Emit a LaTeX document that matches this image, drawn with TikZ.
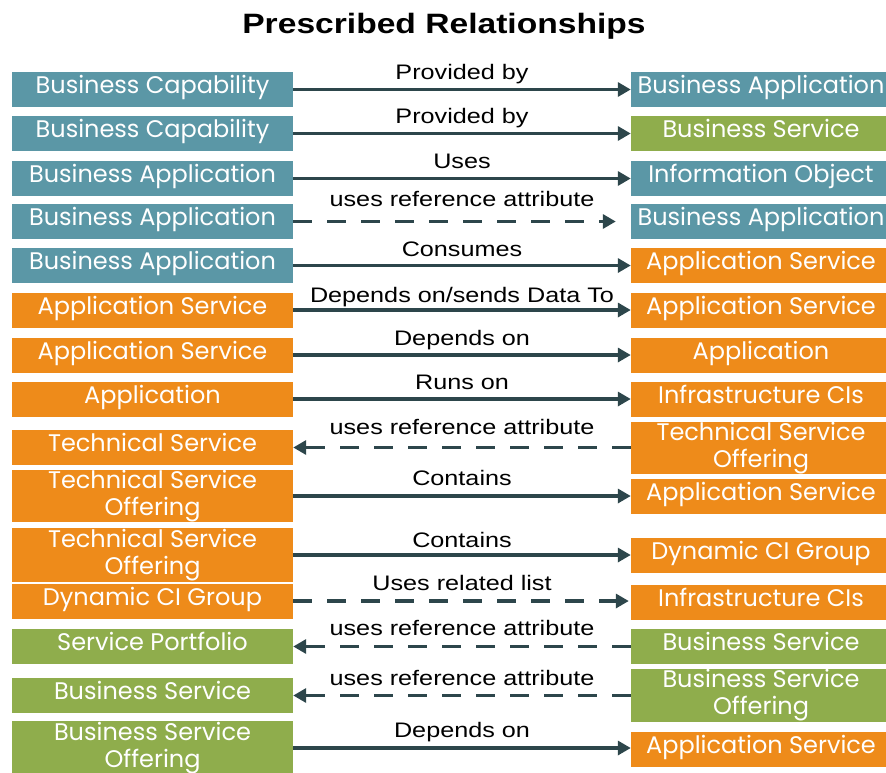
\documentclass[tikz,border=0pt]{standalone}
\usepackage{fontspec}
\setmainfont{Liberation Sans}
\newfontfamily\boxfont{Poppins}
\newfontfamily\lblfont[FakeStretch=1.2]{Liberation Sans}
\usetikzlibrary{arrows.meta}
\definecolor{cTeal}{RGB}{91,151,166}
\definecolor{cOrange}{RGB}{238,139,26}
\definecolor{cGreen}{RGB}{143,173,76}
\definecolor{cArrow}{RGB}{45,70,75}
\tikzset{
  bx/.style={rectangle, inner sep=0pt, text=white,
    font=\boxfont\fontsize{24}{27}\selectfont},
  one/.style={minimum height=35pt, text height=1.0em, text depth=0.16em},
  two/.style={minimum height=#1pt, align=center},
  lbox/.style={bx, minimum width=281pt},
  rbox/.style={bx, minimum width=260pt},
  ar/.style={draw=cArrow, line width=3.8pt, -{Triangle[length=13pt,width=14pt]}},
  dsh/.style={dash pattern=on 19pt off 15pt},
  lbl/.style={font=\lblfont\fontsize{21}{24}\selectfont, anchor=base, inner sep=0pt},
}
\begin{document}
\begin{tikzpicture}[x=1pt,y=-1pt]
\useasboundingbox (0,0) rectangle (886,772);
\node[anchor=base, inner sep=0pt, font=\lblfont\bfseries\fontsize{28}{32}\selectfont] (title) at (444,33) {Prescribed Relationships};
% left boxes
\node[lbox,one,fill=cTeal] (L1) at (152.5,89.5) {Business Capability};
\node[lbox,one,fill=cTeal] (L2) at (152.5,133.5) {Business Capability};
\node[lbox,one,fill=cTeal] (L3) at (152.5,178.5) {Business Application};
\node[lbox,one,fill=cTeal] (L4) at (152.5,221.5) {Business Application};
\node[lbox,one,fill=cTeal] (L5) at (152.5,265.5) {Business Application};
\node[lbox,one,fill=cOrange] (L6) at (152.5,310) {Application Service};
\node[lbox,one,fill=cOrange] (L7) at (152.5,355) {Application Service};
\node[lbox,one,fill=cOrange] (L8) at (152.5,399) {Application};
\node[lbox,one,fill=cOrange] (L9) at (152.5,447.5) {Technical Service};
\node[lbox,two=52,fill=cOrange] (L10) at (152.5,496) {Technical Service\\Offering};
\node[lbox,two=54,fill=cOrange] (L11) at (152.5,555) {Technical Service\\Offering};
\node[lbox,one,fill=cOrange] (L12) at (152.5,601) {Dynamic CI Group};
\node[lbox,one,fill=cGreen] (L13) at (152.5,646.5) {Service Portfolio};
\node[lbox,one,fill=cGreen] (L14) at (152.5,695.5) {Business Service};
\node[lbox,two=54,fill=cGreen] (L15) at (152.5,748) {Business Service\\Offering};
% right boxes
\node[rbox,one,fill=cTeal] (R1) at (761,89.5) {Business Application};
\node[rbox,one,fill=cGreen] (R2) at (761,133.5) {Business Service};
\node[rbox,one,fill=cTeal] (R3) at (761,178.5) {Information Object};
\node[rbox,one,fill=cTeal] (R4) at (761,221.5) {Business Application};
\node[rbox,one,fill=cOrange] (R5) at (761,265.5) {Application Service};
\node[rbox,one,fill=cOrange] (R6) at (761,310) {Application Service};
\node[rbox,one,fill=cOrange] (R7) at (761,355) {Application};
\node[rbox,one,fill=cOrange] (R8) at (761,399) {Infrastructure CIs};
\node[rbox,two=52,fill=cOrange] (R9) at (761,448) {Technical Service\\Offering};
\node[rbox,one,fill=cOrange] (R10) at (761,496) {Application Service};
\node[rbox,one,fill=cOrange] (R11) at (761,555) {Dynamic CI Group};
\node[rbox,one,fill=cOrange] (R12) at (761,602.5) {Infrastructure CIs};
\node[rbox,one,fill=cGreen] (R13) at (761,646.5) {Business Service};
\node[rbox,two=53,fill=cGreen] (R14) at (761,695.5) {Business Service\\Offering};
\node[rbox,one,fill=cOrange] (R15) at (761,749.5) {Application Service};
% connectors
\draw[ar] (L1.east) -- (L1.east -| R1.west);
\draw[ar] (L2.east) -- (L2.east -| R2.west);
\draw[ar] (L3.east) -- (L3.east -| R3.west);
\draw[ar,dsh,shorten >=15pt] (L4.east) -- (L4.east -| R4.west);
\draw[ar] (L5.east) -- (L5.east -| R5.west);
\draw[ar] (L6.east) -- (L6.east -| R6.west);
\draw[ar] (L7.east) -- (L7.east -| R7.west);
\draw[ar] (L8.east) -- (L8.east -| R8.west);
\draw[ar,dsh] (R9.west |- L9.east) -- (L9.east);
\draw[ar] (L10.east) -- (L10.east -| R10.west);
\draw[ar] (L11.east) -- (L11.east -| R11.west);
\draw[ar,dsh,shorten >=2pt] (L12.east) -- (L12.east -| R12.west);
\draw[ar,dsh] (R13.west |- L13.east) -- (L13.east);
\draw[ar,dsh] (R14.west |- L14.east) -- (L14.east);
\draw[ar] (L15.east) -- (L15.east -| R15.west);
% labels
\node[lbl] (T1) at (462,79) {Provided by};
\node[lbl] (T2) at (462,123) {Provided by};
\node[lbl] (T3) at (462,168) {Uses};
\node[lbl] (T4) at (462,206) {uses reference attribute};
\node[lbl] (T5) at (462,256) {Consumes};
\node[lbl] (T6) at (462,302) {Depends on/sends Data To};
\node[lbl] (T7) at (462,345) {Depends on};
\node[lbl] (T8) at (462,389) {Runs on};
\node[lbl] (T9) at (462,434) {uses reference attribute};
\node[lbl] (T10) at (462,485) {Contains};
\node[lbl] (T11) at (462,547) {Contains};
\node[lbl] (T12) at (462,590) {Uses related list};
\node[lbl] (T13) at (462,635) {uses reference attribute};
\node[lbl] (T14) at (462,685) {uses reference attribute};
\node[lbl] (T15) at (462,737) {Depends on};
\end{tikzpicture}
\end{document}
